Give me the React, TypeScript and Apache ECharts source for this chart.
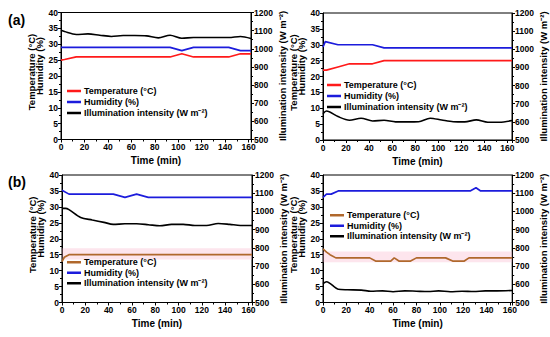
import React, { useEffect, useRef } from "react";
import * as echarts from "echarts";

// ---------- data (time in min, value) ----------
const xMax = [162, 164, 163, 162];

const tempA1 = [[0, 25], [3, 25.2], [13, 26], [93, 26], [103, 27], [113, 26], [143, 26], [153, 27], [162, 27]];
const humA1 = [[0, 29], [93, 29], [103, 28], [113, 29], [143, 29], [153, 28], [162, 28]];
const illumA1 = [[0, 1102], [3, 1095], [13, 1079], [23, 1082], [33, 1075], [43, 1068], [53, 1073], [63, 1073], [73, 1071], [83, 1060], [93, 1075], [103, 1058], [113, 1062], [123, 1062], [133, 1062], [143, 1062], [153, 1068], [162, 1057]];

const tempA2 = [[0, 22], [3, 22], [13, 23], [23, 24], [43, 24], [53, 25], [164, 25]];
const humA2 = [[0, 29.3], [2, 31], [13, 30], [43, 30], [53, 29], [164, 29]];
const illumA2 = [[0, 645], [3, 660], [13, 629], [23, 609], [33, 620], [43, 605], [53, 609], [63, 600], [73, 600], [83, 601], [93, 620], [103, 610], [113, 601], [123, 600], [133, 611], [143, 598], [153, 598], [164, 607]];

const tempB1 = [[0, 12.8], [2, 14.2], [6, 15], [163, 15]];
const humB1 = [[0, 35.2], [6, 34], [44, 34], [54, 33], [64, 34], [74, 33], [163, 33]];
const illumB1 = [[0, 1017], [3, 1017], [6, 1010], [16, 967], [26, 953], [36, 940], [44, 929], [54, 932], [64, 932], [74, 927], [84, 921], [94, 929], [104, 929], [114, 923], [124, 923], [134, 934], [144, 929], [153, 923], [163, 923]];

const tempB2 = [[0, 16.8], [3, 15.8], [6, 15], [11, 14], [40, 14], [45, 13], [58, 13], [61, 14], [65, 13], [75, 13], [80, 14], [105, 14], [111, 13], [121, 13], [125, 14], [162, 14]];
const humB2 = [[0, 33], [3, 34], [7, 34], [13, 35], [126, 35], [131, 36], [135, 35], [162, 35]];
const illumB2 = [[0, 604], [3, 614], [13, 573], [21, 570], [33, 568], [41, 562], [51, 564], [60, 559], [70, 564], [80, 562], [90, 560], [99, 564], [109, 559], [119, 562], [129, 560], [139, 564], [149, 564], [162, 566]];

const bandB1 = [13.5, 17];
const bandB2 = [12.6, 16];

const seriesNames = ["Temperature (°C)", "Humidity (%)", "Illumination intensity (W m⁻²)"];
const panelLabels = ["(a)", "(b)"];

const FONT = "'Liberation Sans', Arial, sans-serif";
const RED = "#ff1a1a";
const BLUE = "#1c1cdc";
const BROWN = "#b0682c";
const BLACK = "#000000";

const panels = [
  { grid: { left: 61, top: 12.5, width: 190, height: 127 }, temp: tempA1, hum: humA1, ill: illumA1, tColor: RED, band: null as number[] | null, lGap: 13, rGap: 22, legend: { left: 67, top: 85.5, lh: 11 } },
  { grid: { left: 323, top: 13, width: 189, height: 127 }, temp: tempA2, hum: humA2, ill: illumA2, tColor: RED, band: null as number[] | null, lGap: 14.5, rGap: 23, legend: { left: 327, top: 79.5, lh: 11 } },
  { grid: { left: 62, top: 175, width: 190, height: 127.5 }, temp: tempB1, hum: humB1, ill: illumB1, tColor: BROWN, band: bandB1, lGap: 15.5, rGap: 22, legend: { left: 67, top: 257, lh: 10.5 } },
  { grid: { left: 323, top: 175, width: 191, height: 127.5 }, temp: tempB2, hum: humB2, ill: illumB2, tColor: BROWN, band: bandB2, lGap: 17.5, rGap: 23, legend: { left: 330, top: 210, lh: 10.5 } },
];

const tickLabel = { fontSize: 8.5, fontWeight: "bold" as const, fontFamily: FONT, color: "#000", formatter: (v: number) => String(v) };
const axisLine = { show: true, lineStyle: { color: "#000", width: 1 } };
const axisTick = { show: true, inside: false, length: 3, lineStyle: { color: "#000", width: 1 } };
const minorTick = { show: true, splitNumber: 2, length: 2, lineStyle: { color: "#000", width: 1 } };

export default function App() {
  const ref = useRef<HTMLDivElement>(null);
  useEffect(() => {
    if (!ref.current) return;
    const chart = echarts.init(ref.current, null, { renderer: "svg" });

    const grid = panels.map((p) => ({ ...p.grid, show: true, borderColor: "#000", borderWidth: 1, containLabel: false }));

    const xAxis = panels.map((p, i) => ({
      type: "value",
      gridIndex: i,
      min: 0,
      max: xMax[i],
      interval: 20,
      name: "Time (min)",
      nameLocation: "middle",
      nameGap: 16,
      nameTextStyle: { fontSize: 10, fontWeight: "bold", fontFamily: FONT, color: "#000" },
      axisLine,
      axisTick,
      minorTick,
      axisLabel: { ...tickLabel, margin: 3, showMaxLabel: false },
      splitLine: { show: false },
    }));

    const yAxis: any[] = [];
    panels.forEach((p, i) => {
      yAxis.push({
        type: "value",
        gridIndex: i,
        position: "left",
        min: 0,
        max: 40,
        interval: 5,
        name: "{t|Temperature (°C)}\n{h|Humidity (%)}",
        nameLocation: "middle",
        nameRotate: 90,
        nameGap: p.lGap,
        nameTextStyle: {
          fontSize: 9.5,
          fontWeight: "bold",
          fontFamily: FONT,
          color: "#000",
          lineHeight: 8,
          rich: {
            t: { fontSize: 9.5, fontWeight: "bold", fontFamily: FONT, color: "#000", lineHeight: 8, padding: [0, 0, 0, 8] },
            h: { fontSize: 9.5, fontWeight: "bold", fontFamily: FONT, color: "#000", lineHeight: 8, padding: [0, 0, 0, 20] },
          },
        },
        axisLine,
        axisTick,
        minorTick,
        axisLabel: { ...tickLabel, margin: 3 },
        splitLine: { show: false },
      });
      yAxis.push({
        type: "value",
        gridIndex: i,
        position: "right",
        min: 500,
        max: 1200,
        interval: 100,
        name: seriesNames[2],
        nameLocation: "middle",
        nameRotate: 90,
        nameGap: p.rGap,
        nameTextStyle: { fontSize: 9.5, fontWeight: "bold", fontFamily: FONT, color: "#000", lineHeight: 11 },
        axisLine,
        axisTick,
        minorTick,
        axisLabel: { ...tickLabel, margin: 3 },
        splitLine: { show: false },
      });
    });

    const series: any[] = [];
    panels.forEach((p, i) => {
      series.push({
        type: "line",
        name: seriesNames[0],
        xAxisIndex: i,
        yAxisIndex: 2 * i,
        data: p.temp,
        symbol: "none",
        lineStyle: { color: p.tColor, width: 1.7 },
        itemStyle: { color: p.tColor },
        z: 3,
        markArea: p.band
          ? {
              silent: true,
              itemStyle: { color: "rgba(250,175,200,0.33)" },
              data: [[{ yAxis: p.band[0] }, { yAxis: p.band[1] }]],
            }
          : undefined,
      });
      series.push({
        type: "line",
        name: seriesNames[1],
        xAxisIndex: i,
        yAxisIndex: 2 * i,
        data: p.hum,
        symbol: "none",
        lineStyle: { color: BLUE, width: 1.7 },
        itemStyle: { color: BLUE },
        z: 3,
      });
      series.push({
        type: "line",
        name: seriesNames[2],
        xAxisIndex: i,
        yAxisIndex: 2 * i + 1,
        data: p.ill,
        symbol: "none",
        smooth: 0.3,
        lineStyle: { color: BLACK, width: 1.6 },
        itemStyle: { color: BLACK },
        z: 3,
      });
    });

    const legend = panels.map((p) => ({
      orient: "vertical",
      left: p.legend.left,
      top: p.legend.top,
      padding: 0,
      itemGap: 0,
      itemWidth: 14,
      itemHeight: 2.5,
      icon: "rect",
      selectedMode: false,
      textStyle: { fontSize: 9, fontWeight: "bold", fontFamily: FONT, color: "#000", lineHeight: p.legend.lh, padding: [0, 0, 0, -2] },
      data: [
        { name: seriesNames[0], itemStyle: { color: p.tColor } },
        { name: seriesNames[1], itemStyle: { color: BLUE } },
        { name: seriesNames[2], itemStyle: { color: BLACK } },
      ],
    }));

    const title = [
      { text: panelLabels[0], left: 8, top: 13, padding: 0, textStyle: { fontSize: 14, fontWeight: "bold", fontFamily: FONT, color: "#000" } },
      { text: panelLabels[1], left: 8, top: 175, padding: 0, textStyle: { fontSize: 14, fontWeight: "bold", fontFamily: FONT, color: "#000" } },
    ];

    chart.setOption({
      animation: false,
      backgroundColor: "#fff",
      title,
      grid,
      xAxis,
      yAxis,
      legend,
      series,
    });
    return () => chart.dispose();
  }, []);
  return <div ref={ref} style={{ position: "absolute", left: 0, top: 0, width: 550, height: 337 }} />;
}
